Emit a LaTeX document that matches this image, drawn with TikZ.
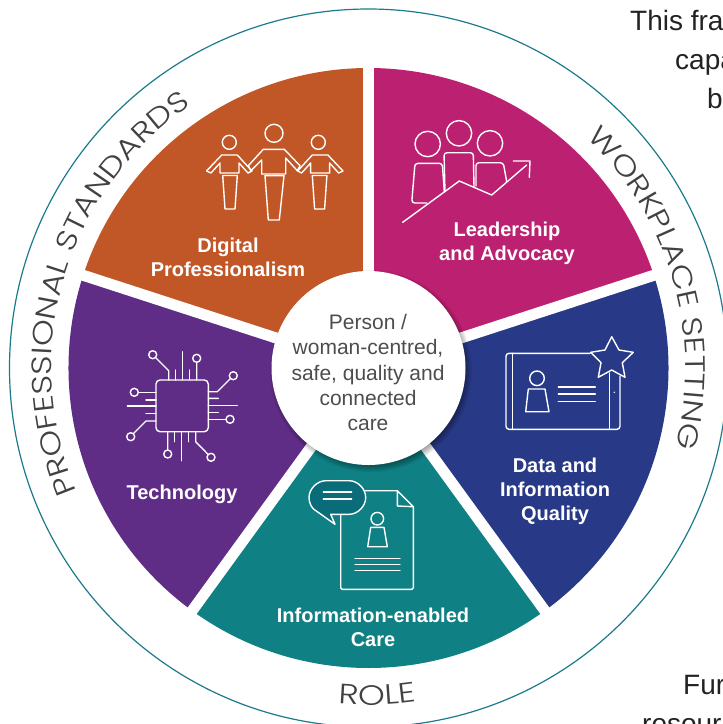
\documentclass[tikz,border=0pt]{standalone}
\usepackage{fontspec}
\setmainfont{Liberation Sans}
\newfontfamily\ringfont[FakeStretch=1.22]{Poppins Light}
\usetikzlibrary{decorations.text}
\definecolor{ringteal}{HTML}{1A7A8C}
\definecolor{ringgrey}{HTML}{414141}
\definecolor{hubgrey}{HTML}{4D4D4D}
\definecolor{pageblack}{HTML}{222222}
\definecolor{orangewedge}{HTML}{C15627}
\definecolor{magentawedge}{HTML}{BC2070}
\definecolor{navywedge}{HTML}{283A87}
\definecolor{tealwedge}{HTML}{0F8083}
\definecolor{purplewedge}{HTML}{5F2C86}
\definecolor{bubbleteal}{HTML}{0A6C78}
\tikzset{
  wedgelabel/.style={text=white, align=center, inner sep=0pt, font=\bfseries\fontsize{20}{24}\selectfont},
  hublabel/.style={text=hubgrey, align=center, inner sep=0pt, font=\fontsize{21}{25.2}\selectfont},
  pagetext/.style={text=pageblack, anchor=base west, inner sep=0pt, font=\fontsize{28}{32}\selectfont},
  iconline/.style={draw=white, line width=1.4pt, line join=round, line cap=round},
  gapline/.style={draw=white, line width=11pt},
  ringtext/.style={decorate, decoration={text along path, text align=center, text={#1}}}
}
\begin{document}
\begin{tikzpicture}[x=1pt,y=-1pt]
\useasboundingbox (0,0) rectangle (723,724);
\clip (0,0) rectangle (723,724);

\coordinate (centre) at (368.5,368);

% Outer ring
\draw [ringteal, line width=1.2pt] (centre) circle [radius=359];

% Wedges
\foreach \ang/\col in {-90/magentawedge, -18/navywedge, 54/tealwedge, 126/purplewedge, 198/orangewedge}
  \fill [\col] (centre) -- ++(\ang:300) arc [start angle=\ang, delta angle=72, radius=300] -- cycle;
\foreach \ang in {-90, -18, 54, 126, 198}
  \draw [gapline] (centre) -- ++(\ang:310);

% Hub shadow
\foreach \rad in {1,...,9}
  \fill [black, opacity=0.05] (371,371) circle [radius=92+\rad];
\fill [white] (368.5,368) circle [radius=97];

% Ring texts
\path [ringtext={|\ringfont\fontsize{28}{28}\selectfont\color{ringgrey}|PROFESSIONAL STANDARDS}]
  (centre) ++(158:317) arc [start angle=158, end angle=235, radius=317];
\path [ringtext={|\ringfont\fontsize{28}{28}\selectfont\color{ringgrey}|WORKPLACE SETTING}]
  (centre) ++(-45:317) arc [start angle=-45, end angle=13, radius=317];
\path [ringtext={|\ringfont\fontsize{28}{28}\selectfont\color{ringgrey}|ROLE}]
  (centre) ++(97:337) arc [start angle=97, end angle=80, radius=337];

% Nodes
\node (digital) [wedgelabel] at (228,257) {Digital\\Professionalism};
\node (leadership) [wedgelabel] at (507,243) {Leadership\\and Advocacy};
\node (data) [wedgelabel] at (555,491) {Data and\\Information\\Quality};
\node (care) [wedgelabel] at (373,627) {Information-enabled\\Care};
\node (technology) [wedgelabel] at (182,494) {Technology};
\node (hub) [hublabel] at (368,372.5) {Person /\\woman-centred,\\safe, quality and\\connected\\care};

\node (intro) [pagetext] at (630,30) {This fra};
\node (introb) [pagetext] at (675,69) {capa};
\node (introc) [pagetext] at (707,108) {b};
\node (further) [pagetext] at (683,694) {Fur};
\node (furtherb) [pagetext] at (642,733) {resour};

% People icon
\draw [iconline] (229.3,142.3) circle [radius=7] (274,133.3) circle [radius=9] (318.3,142.3) circle [radius=7];
\draw [iconline] (220,173) -- (220,163) -- (211,173) -- (206.5,171) -- (221.7,155) -- (237.3,155) -- (252,171) -- (248,173) -- (239,163) -- (239,173) -- cycle;
\draw [iconline] (222.7,175.5) -- (225,209) -- (235,209) -- (237.3,175.5) -- cycle;
\draw [iconline] (261.7,160) -- (261.7,174) -- (285.7,174) -- (285.7,158) -- (297.3,170.7) -- (300,165.7) -- (284.3,149.3) -- (263.3,149.3) -- (248.3,165.7) -- (251,170.7) -- cycle;
\draw [iconline] (265,175.7) -- (268.3,220) -- (279.3,220) -- (284,175.7) -- cycle;
\draw [iconline] (329.6,173) -- (329.6,163) -- (338.6,173) -- (343,171) -- (327.9,155) -- (312.3,155) -- (297.6,171) -- (301.6,173) -- (310.6,163) -- (310.6,173) -- cycle;
\draw [iconline] (326.9,175.5) -- (324.6,209) -- (314.6,209) -- (312.3,175.5) -- cycle;

% Team and arrow icon
\draw [iconline] (427.7,144) circle [radius=12.7] (459,133.3) circle [radius=12.7] (490,143.3) circle [radius=12.7];
\draw [iconline, rounded corners=3] (444.3,191.7) -- (442.3,163.3) -- (415,163.3) -- (411.7,203) -- (426.7,203);
\draw [iconline, rounded corners=3] (445,191.7) -- (444,152.7) -- (473.3,152.7) -- (474,186.7);
\draw [iconline, rounded corners=3] (476,186) -- (476,162.7) -- (503.3,162.7) -- (506.7,181.7);
\draw [iconline] (402.7,222.3) -- (459.3,181) -- (491.7,195) -- (526.7,165);
\draw [iconline] (513.3,161) -- (530,161) -- (529.3,177.3);

% Tablet icon
\draw [iconline, rounded corners=3] (590,353.3) -- (506,353.3) -- (506,429.3) -- (620,429.3) -- (620,376);
\draw [iconline] (512.7,353.3) -- (512.7,429.3) (609.3,373) -- (609.3,429.3);
\fill [white] (614.3,392.3) circle [radius=0.8];
\draw [iconline] (537,378.3) circle [radius=7.3];
\draw [iconline] (528.3,389) -- (545,389) -- (549,411.7) -- (525.7,411.7) -- cycle;
\draw [iconline] (558.3,387) -- (595.3,387) (558.3,394) -- (595.3,394) (558.3,401.3) -- (595.3,401.3);
\draw [iconline] (611.7,336.7) -- (619,350) -- (633.3,352.3) -- (622.3,362.7) -- (625,377.3) -- (611.7,370) -- (598.3,377.3) -- (601,362.7) -- (590.7,352.3) -- (605,350) -- cycle;

% Document icon
\draw [iconline, rounded corners=1.5] (340.7,515) -- (340.7,589.3) -- (413.3,589.3) -- (413.3,506.7);
\draw [iconline] (413.3,506.7) -- (397.3,490.7) -- (365,490.7) (397.3,490.7) -- (397.3,506) -- (413.3,506.7);
\draw [iconline, fill=bubbleteal] (335,524.3) -- (330.7,514.3) -- (349,514.3) .. controls (358,514.3) and (365.7,506) .. (365.7,497.5) .. controls (365.7,489) and (358,480.7) .. (349,480.7) -- (326,480.7) .. controls (317,480.7) and (309,489) .. (309,497.5) .. controls (309,502) and (311,506.5) .. (313.5,509) -- cycle;
\draw [iconline] (323.3,492) -- (351.7,492) (323.3,499) -- (351.7,499);
\draw [iconline] (377.3,518.7) circle [radius=6.3];
\draw [iconline] (370.7,527.3) -- (384,527.3) -- (387.3,546.7) -- (367.7,546.7) -- cycle;
\draw [iconline] (355,558.7) -- (400,558.7) (355,564.7) -- (400,564.7) (355,570.7) -- (400,570.7);

% Chip icon
\draw [iconline, rounded corners=4] (156,380) rectangle (208.3,431.7);
\draw [iconline] (182.7,351.7) -- (182.7,380) (175.3,370) -- (175.3,380) (189.3,370) -- (189.3,380);
\draw [iconline] (168.7,380) -- (168.7,370.7) -- (155.5,357.5) (196.7,380) -- (196.7,362.3);
\draw [iconline] (208.3,391.7) -- (217.3,391.7) -- (230.5,378.5) (208.3,398.3) -- (218.3,398.3);
\draw [iconline] (208.3,405.7) -- (237.3,405.7) (208.3,412.3) -- (218.3,412.3) (208.3,419.3) -- (226,419.3);
\draw [iconline] (181.3,431.7) -- (181.3,460.7) (174.3,431.7) -- (174.3,441.7) (188.3,431.7) -- (188.3,441.7);
\draw [iconline] (167.7,431.7) -- (167.7,450) (195.7,431.7) -- (195.7,441.7) -- (208.2,454.5);
\draw [iconline] (156,392.3) -- (138.3,392.3) (156,400) -- (146,400) (156,406) -- (127.3,406) (156,413.3) -- (146,413.3);
\draw [iconline] (156,421) -- (146,421) -- (133.5,433.5);
\draw [iconline] (152.7,354.7) circle [radius=4] (196.7,358.3) circle [radius=4] (233.3,375.7) circle [radius=4] (230,419.3) circle [radius=4];
\draw [iconline] (167.7,454) circle [radius=4] (211,457.3) circle [radius=4] (134.3,392.3) circle [radius=4] (130.7,436.7) circle [radius=4];

\end{tikzpicture}
\end{document}
